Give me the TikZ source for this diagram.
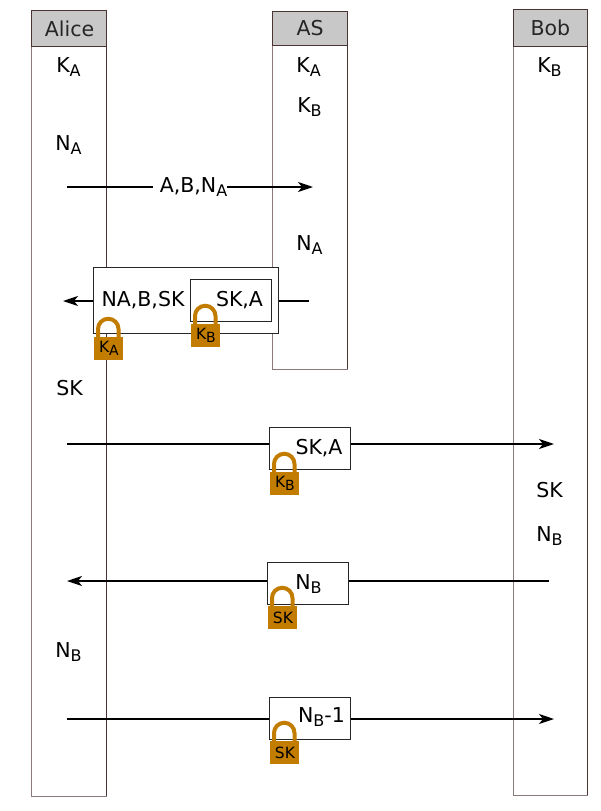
\documentclass[tikz,border=0pt]{standalone}
\usepackage{fontspec}
\setmainfont{DejaVu Sans}
\usetikzlibrary{arrows.meta}
\definecolor{lineA}{HTML}{8A7A7A}
\definecolor{lineB}{HTML}{4A3333}
\definecolor{hdr}{HTML}{C8C8C8}
\definecolor{lockc}{HTML}{C27C00}
\newcommand{\subt}[1]{\raisebox{-4pt}{\fontsize{16}{16}\selectfont #1}}
\newcommand{\locksub}[1]{\raisebox{-3pt}{\fontsize{14}{14}\selectfont #1}}
\tikzset{
  x=1pt,y=-1pt,
  life/.style={draw=lineA,line width=1pt,fill=white,inner sep=0pt,anchor=north west},
  head/.style={draw=lineB,line width=1.2pt,fill=hdr,inner sep=0pt,anchor=north west,font=\fontsize{20.5}{20.5}\selectfont,text=black!85},
  lbl/.style={inner sep=0pt,font=\fontsize{20.5}{20.5}\selectfont,text=black},
  msgbox/.style={draw=black!85,line width=1.2pt,fill=white,inner sep=0pt,anchor=north west},
  msg/.style={line width=1.7pt,black,-{Stealth[length=15pt,width=10pt,inset=4pt]}},
  lockbody/.style={fill=lockc,inner sep=0pt,minimum width=29.5pt,minimum height=23pt,anchor=north west,font=\fontsize{15.5}{15.5}\selectfont,text=black},
  shackle/.style={draw=lockc,line width=4pt}
}
\newcommand{\padlock}[4]{% name, x, y, text
  \draw[shackle] (#2+4.5,#3+1) -- (#2+4.5,#3-8) arc[start angle=180,end angle=0,radius=10.25pt] -- (#2+25,#3+1);
  \node[lockbody] (#1) at (#2,#3) {\hspace{1pt}#4};
}
\newcommand{\lifeline}[7]{% name,x,ytop,ybottom,head bottom,title,width
  \node[life,minimum width=#7pt,minimum height=#4pt-#3pt] (#1) at (#2,#3) {};
  \draw[lineB,line width=1pt] (#2+#7,#5) -- (#2+#7,#4);
  \node[head,minimum width=#7pt,minimum height=#5pt-#3pt] (#1h) at (#2,#3) {#6};
}
\begin{document}
\begin{tikzpicture}
\useasboundingbox (0,0) rectangle (600,811);
\lifeline{alice}{31}{10}{796}{46}{\hspace{1pt}Alice}{75}
\lifeline{as}{272}{10.5}{369}{45}{AS}{75}
\lifeline{bob}{512.5}{9}{795}{46}{Bob}{74.5}

% knowledge labels
\node[lbl] (a1) at (68.5,67) {K\subt{A}};
\node[lbl] (a2) at (68.5,145) {N\subt{A}};
\node[lbl] (a3) at (69.5,388) {SK};
\node[lbl] (a4) at (68.5,652) {N\subt{B}};
\node[lbl] (s1) at (308.5,67) {K\subt{A}};
\node[lbl] (s2) at (309.5,107) {K\subt{B}};
\node[lbl] (s3) at (309.5,245) {N\subt{A}};
\node[lbl] (b1) at (549.5,67) {K\subt{B}};
\node[lbl] (b2) at (549.5,490) {SK};
\node[lbl] (b3) at (549.5,536) {N\subt{B}};

% message 1
\coordinate (m1s) at (67,187);
\coordinate (m1e) at (313,187);
\draw[msg] (m1s) -- (m1e);
\node[lbl,fill=white,inner ysep=1pt] (m1) at (190,187) {\hspace{7pt}A,B,N\subt{A}};

% message 2
\coordinate (m2s) at (309,301);
\coordinate (m2e) at (63,301);
\draw[msg] (m2s) -- (m2e);
\node[msgbox,minimum width=184.5pt,minimum height=66pt] (m2outer) at (93,267) {};
\node[msgbox,minimum width=81pt,minimum height=42pt] (m2inner) at (190,279) {};
\node[lbl] (m2a) at (143,300) {NA,B,SK};
\node[lbl] (m2b) at (239.5,300) {SK,A};
\padlock{l1}{93.5}{337}{K\locksub{A}}
\padlock{l2}{190.5}{324}{K\locksub{B}}

% message 3
\coordinate (m3s) at (67,444);
\coordinate (m3e) at (554,444);
\draw[msg] (m3s) -- (m3e);
\node[msgbox,minimum width=81pt,minimum height=42pt] (m3box) at (269,427) {};
\node[lbl] (m3t) at (319,448) {SK,A};
\padlock{l3}{269.5}{472}{K\locksub{B}}

% message 4
\coordinate (m4s) at (549,581);
\coordinate (m4e) at (67,581);
\draw[msg] (m4s) -- (m4e);
\node[msgbox,minimum width=81.5pt,minimum height=42pt] (m4box) at (266.5,562) {};
\node[lbl] (m4t) at (308.5,584) {N\subt{B}};
\padlock{l4}{267.5}{606}{SK}

% message 5
\coordinate (m5s) at (67,719);
\coordinate (m5e) at (554,719);
\draw[msg] (m5s) -- (m5e);
\node[msgbox,minimum width=81pt,minimum height=42pt] (m5box) at (269,697) {};
\node[lbl] (m5t) at (321.5,717) {N\subt{B}-1};
\padlock{l5}{269.5}{741}{SK}
\end{tikzpicture}
\end{document}
